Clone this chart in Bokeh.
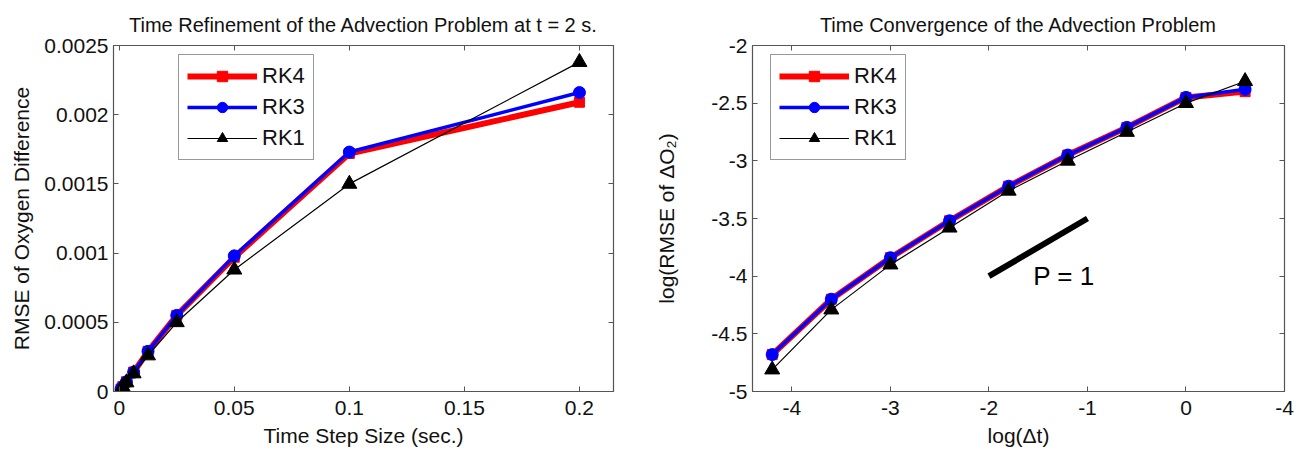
from bokeh.plotting import figure
from bokeh.models import (FixedTicker, CustomJSTickFormatter, LinearAxis, Legend,
                          LegendItem, Range1d, Label)
from bokeh.layouts import row
from bokeh.embed import file_html
from bokeh.resources import INLINE

# ---------------- data ----------------
dt = [0.2, 0.1, 0.05, 0.025, 0.0125, 0.00625, 0.003125, 0.0015625, 0.00078125]
rk4_rmse = [0.00209, 0.00172, 0.00097, 0.00055, 0.00029, 0.00014, 0.00007, 0.000035, 0.000018]
rk3_rmse = [0.00216, 0.00173, 0.00098, 0.00055, 0.00029, 0.00014, 0.00007, 0.000035, 0.000018]
rk1_rmse = [0.00238, 0.00150, 0.00088, 0.00050, 0.00026, 0.00013, 0.000065, 0.000032, 0.000016]

log_dt = [0.6, 0.0, -0.6, -1.2, -1.8, -2.4, -3.0, -3.6, -4.2]
rk4_log = [-2.40, -2.45, -2.71, -2.95, -3.22, -3.52, -3.84, -4.20, -4.68]
rk3_log = [-2.38, -2.45, -2.71, -2.95, -3.22, -3.52, -3.84, -4.20, -4.68]
rk1_log = [-2.31, -2.50, -2.75, -3.00, -3.26, -3.58, -3.90, -4.29, -4.81]

slope_x = [-2.0, -1.0]
slope_y = [-4.0, -3.5]

left_xticks = [0, 0.05, 0.1, 0.15, 0.2]
left_yticks = [0, 0.0005, 0.001, 0.0015, 0.002, 0.0025]
right_xticks = [-4, -3, -2, -1, 0, 1]
right_yticks = [-5, -4.5, -4, -3.5, -3, -2.5, -2]

FONT = "Liberation Sans"
TXT = "#111111"
EDGE = "#555555"


def fmt(kind):
    return CustomJSTickFormatter(code="""
      if (kind == 'rx' && Math.abs(tick - 1) < 1e-9) return '-4';
      return String(parseFloat(tick.toPrecision(6)));
    """, args=dict(kind=kind))


BLANK = CustomJSTickFormatter(code="return '';")


def style(p, xticks, yticks, xkind, ykind, ylabel_standoff):
    p.title.text_font = FONT
    p.title.text_font_style = "normal"
    p.title.text_font_size = "20px"
    p.title.align = "center"
    p.title.text_color = TXT
    p.title.standoff = 19
    p.outline_line_color = EDGE
    p.outline_line_width = 1.2
    p.xgrid.visible = False
    p.ygrid.visible = False
    for ax, ticks, kind in ((p.xaxis[0], xticks, xkind), (p.yaxis[0], yticks, ykind)):
        ax.ticker = FixedTicker(ticks=ticks)
        ax.formatter = fmt(kind)
        ax.major_label_text_font = FONT
        ax.major_label_text_font_size = "21px"
        ax.major_label_text_color = TXT
        ax.axis_label_text_font = FONT
        ax.axis_label_text_font_size = "21px"
        ax.axis_label_text_font_style = "normal"
        ax.axis_label_text_color = TXT
        ax.major_tick_in = 5
        ax.major_tick_out = 0
        ax.minor_tick_in = 0
        ax.minor_tick_out = 0
        ax.axis_line_color = EDGE
        ax.major_tick_line_color = EDGE
    p.xaxis[0].major_label_standoff = 9
    p.xaxis[0].axis_label_standoff = 6
    p.yaxis[0].axis_label_standoff = ylabel_standoff
    # mirrored ticks on top and right
    for place, ticks in (("above", xticks), ("right", yticks)):
        ax = LinearAxis(ticker=FixedTicker(ticks=ticks), formatter=BLANK,
                        major_tick_in=5, major_tick_out=0, minor_tick_in=0, minor_tick_out=0,
                        axis_line_color=None, major_tick_line_color=EDGE,
                        major_label_standoff=0)
        p.add_layout(ax, place)


def draw(p, x, y4, y3, y1, loc):
    r4l = p.line(x, y4, color="#ff0000", line_width=6)
    r4s = p.scatter(x, y4, marker="square", size=10, color="#ff0000")
    r3l = p.line(x, y3, color="#0000ff", line_width=3.5)
    r3s = p.scatter(x, y3, marker="circle", size=12, color="#0000ff")
    r1l = p.line(x, y1, color="black", line_width=1.2)
    r1s = p.scatter(x, y1, marker="triangle", size=15, color="black")
    leg = Legend(items=[LegendItem(label="RK4", renderers=[r4l, r4s]),
                        LegendItem(label="RK3", renderers=[r3l, r3s]),
                        LegendItem(label="RK1", renderers=[r1l, r1s])],
                 location=loc)
    leg.label_text_font = FONT
    leg.label_text_font_size = "22px"
    leg.label_text_color = TXT
    leg.glyph_width = 70
    leg.glyph_height = 26
    leg.label_height = 26
    leg.spacing = 5
    leg.padding = 8
    leg.margin = 0
    leg.label_standoff = 5
    leg.border_line_color = "#333333"
    leg.border_line_width = 1
    leg.background_fill_color = "white"
    leg.background_fill_alpha = 1
    p.add_layout(leg, "center")


# ---------------- left plot ----------------
p1 = figure(frame_width=500, frame_height=346, output_backend="svg", toolbar_location=None,
            title="Time Refinement of the Advection Problem at t = 2 s.",
            x_range=Range1d(-0.0025, 0.2148), y_range=Range1d(0, 0.0025),
            min_border_left=113, min_border_right=36, min_border_top=45, min_border_bottom=62,
            x_axis_label="Time Step Size (sec.)", y_axis_label="RMSE of Oxygen Difference")
style(p1, left_xticks, left_yticks, "lx", "ly", 8)
draw(p1, dt, rk4_rmse, rk3_rmse, rk1_rmse, (65, 231))

# ---------------- right plot ----------------
p2 = figure(frame_width=532, frame_height=346, output_backend="svg", toolbar_location=None,
            title="Time Convergence of the Advection Problem",
            x_range=Range1d(-4.4, 1.0), y_range=Range1d(-5, -2),
            min_border_left=103, min_border_right=14, min_border_top=45, min_border_bottom=62,
            x_axis_label="log(Δt)", y_axis_label="log(RMSE of ΔO₂)")
style(p2, right_xticks, right_yticks, "rx", "ry", 30)
draw(p2, log_dt, rk4_log, rk3_log, rk1_log, (18, 231))
p2.line(slope_x, slope_y, color="black", line_width=6)
p2.add_layout(Label(x=-1.55, y=-4.0, text="P = 1", text_font=FONT, text_font_size="26px",
                    text_color="black", text_baseline="middle"))

layout = row(p1, p2)
open("out.html", "w").write(file_html(layout, INLINE))
